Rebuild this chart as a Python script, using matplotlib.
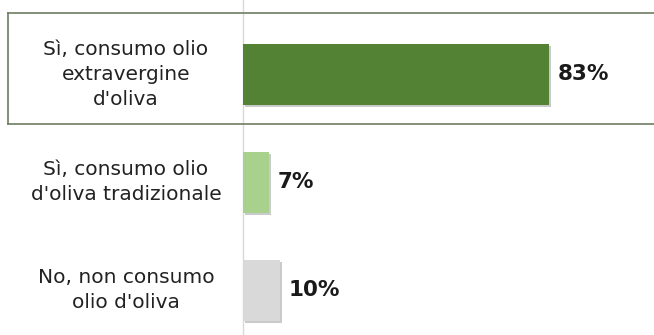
import matplotlib.pyplot as plt
import matplotlib.patheffects as pe
from matplotlib.lines import Line2D

labels = ["Sì, consumo olio\nextravergine\nd'oliva",
          "Sì, consumo olio\nd'oliva tradizionale",
          "No, non consumo\nolio d'oliva"]
values = [83, 7, 10]
value_text = ["83%", "7%", "10%"]
colors = ["#548235", "#a9d18e", "#d9d9d9"]

W, H = 654, 335
fig = plt.figure(figsize=(W / 100, H / 100), dpi=100)
ax = fig.add_axes([243 / W, 0, 1 - 243 / W, 1])

pos = list(range(len(values)))
bars = ax.barh(pos, values, height=0.565, color=colors, zorder=3)
for b in bars:
    b.set_path_effects([pe.SimplePatchShadow(offset=(1.5, -1.5), shadow_rgbFace="#8a8a8a", alpha=0.45),
                        pe.Normal()])

ax.set_xlim(0, 111.4)
ax.set_ylim(2 + 44.5 / 108, -74.5 / 108)

for p, v, t in zip(pos, values, value_text):
    ax.text(v + 2.4, p, t, va="center", ha="left", fontsize=15.5,
            fontweight="bold", color="#1a1a1a", family="DejaVu Sans")

for p, lab in zip(pos, labels):
    ax.text(-117 / 3.69, p, lab, ha="center", va="center", fontsize=14.5,
            color="#222222", family="DejaVu Sans", linespacing=1.4,
            transform=ax.transData, clip_on=False)

for s in ["top", "right", "bottom"]:
    ax.spines[s].set_visible(False)
ax.spines["left"].set_color("#d8d8d8")
ax.spines["left"].set_linewidth(1)
ax.set_xticks([])
ax.set_yticks([])

# frame around first row
fc = "#6f7d62"
fig.add_artist(Line2D([8 / W, 1], [1 - 13 / H, 1 - 13 / H], color=fc, lw=1.2))
fig.add_artist(Line2D([8 / W, 1], [1 - 124 / H, 1 - 124 / H], color=fc, lw=1.2))
fig.add_artist(Line2D([8 / W, 8 / W], [1 - 13 / H, 1 - 124 / H], color=fc, lw=1.2))

fig.savefig("out.png", dpi=100)
